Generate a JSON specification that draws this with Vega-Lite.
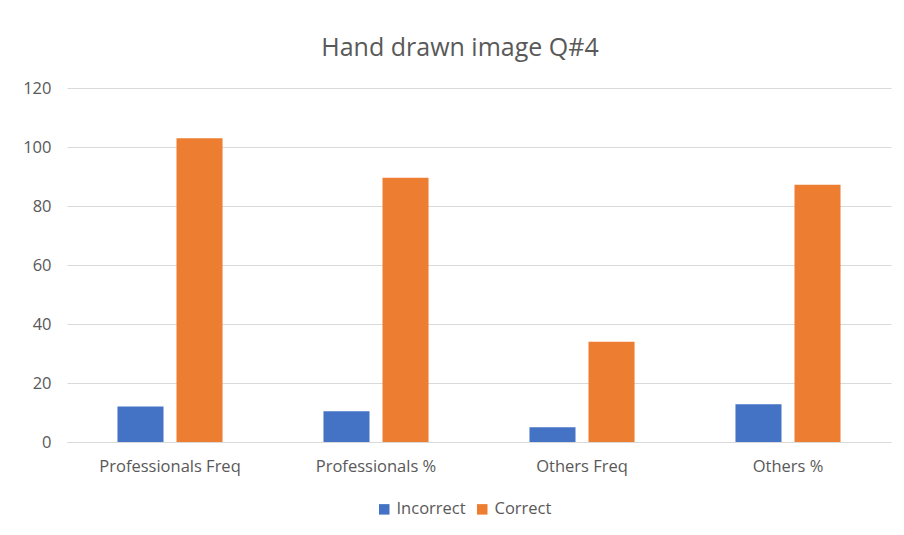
{
  "$schema": "https://vega.github.io/schema/vega-lite/v6.json",
  "width": 824,
  "height": 354,
  "autosize": {"type": "none"},
  "padding": {"left": 67, "top": 88, "right": 13, "bottom": 93},
  "background": "white",
  "title": {
    "text": "Hand drawn image Q#4",
    "fontSize": 25,
    "font": "Open Sans",
    "fontWeight": "normal",
    "color": "#595959",
    "anchor": "middle",
    "dx": -19,
    "offset": 19
  },
  "data": {
    "values": [
      {"category": "Professionals Freq", "answer": "Incorrect", "value": 12},
      {"category": "Professionals Freq", "answer": "Correct", "value": 103},
      {"category": "Professionals %", "answer": "Incorrect", "value": 10.4},
      {"category": "Professionals %", "answer": "Correct", "value": 89.6},
      {"category": "Others Freq", "answer": "Incorrect", "value": 5},
      {"category": "Others Freq", "answer": "Correct", "value": 34},
      {"category": "Others %", "answer": "Incorrect", "value": 12.8},
      {"category": "Others %", "answer": "Correct", "value": 87.2}
    ]
  },
  "mark": {"type": "bar"},
  "encoding": {
    "x": {
      "field": "category",
      "type": "nominal",
      "sort": ["Professionals Freq", "Professionals %", "Others Freq", "Others %"],
      "scale": {"paddingInner": 0.49, "paddingOuter": 0.245},
      "axis": {
        "title": null,
        "labelAngle": 0,
        "labelFont": "Open Sans",
        "labelFontSize": 16.5,
        "labelColor": "#595959",
        "labelPadding": 16,
        "ticks": false,
        "domainColor": "#d9d9d9",
        "domainWidth": 1
      }
    },
    "xOffset": {
      "field": "answer",
      "type": "nominal",
      "sort": ["Incorrect", "Correct"],
      "scale": {"paddingInner": 0.22, "paddingOuter": 0}
    },
    "y": {
      "field": "value",
      "type": "quantitative",
      "scale": {"domain": [0, 120]},
      "axis": {
        "title": null,
        "values": [0, 20, 40, 60, 80, 100, 120],
        "labelFont": "Open Sans",
        "labelFontSize": 16.5,
        "labelColor": "#595959",
        "labelPadding": 16,
        "ticks": false,
        "domain": false,
        "gridColor": "#d9d9d9",
        "gridWidth": 1
      }
    },
    "color": {
      "field": "answer",
      "type": "nominal",
      "sort": ["Incorrect", "Correct"],
      "scale": {"domain": ["Incorrect", "Correct"], "range": ["#4472C4", "#ED7D31"]},
      "legend": {
        "title": null,
        "orient": "none",
        "direction": "horizontal",
        "legendX": 309,
        "legendY": 413,
        "symbolType": "square",
        "symbolSize": 110,
        "labelFont": "Open Sans",
        "labelFontSize": 16.5,
        "labelColor": "#595959",
        "labelOffset": 4,
        "columnPadding": 8,
        "symbolOffset": 0
      }
    }
  },
  "config": {"view": {"stroke": null}}
}
